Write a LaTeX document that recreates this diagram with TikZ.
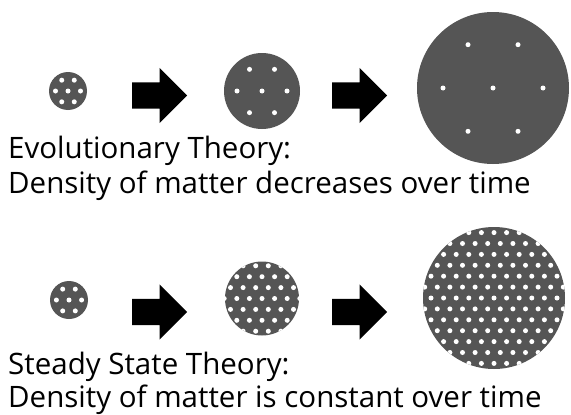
\documentclass[tikz,border=0pt]{standalone}
\usepackage{fontspec}
\setmainfont{Open Sans}
\usetikzlibrary{shapes.arrows,calc,positioning}
\definecolor{blobGrey}{HTML}{555555}
\tikzset{
  blob/.style={circle, fill=blobGrey, inner sep=0pt, minimum size=#1},
  bigarrow/.style={single arrow, fill=black, inner sep=0pt, inner ysep=13pt, minimum height=55pt, single arrow head extend=14.5pt, anchor=west},
  caption/.style={anchor=base west, inner sep=0pt, font=\fontsize{29.5}{35}\selectfont},
  speck/.style={fill=white},
}
% seven dots in a hexagon round a node
\newcommand{\hexspecks}[2]{%
  \foreach \dx/\dy in {-1/0,0/0,1/0,-0.5/-0.866,0.5/-0.866,-0.5/0.866,0.5/0.866}
    \fill[speck] ($(#1)+(\dx*#2,\dy*#2)$) circle (2.5pt);
}
% a clipped grid of dots inside a node
\newcommand{\gridspecks}[2]{%
  \begin{scope}
    \clip (#1.center) circle (#2);
    \foreach \j in {-8,...,8}
      \foreach \i in {-7,...,7} {
        \pgfmathsetmacro\gx{\i*12.6+mod(abs(\j),2)*6.3}
        \pgfmathsetmacro\gy{\j*10.9}
        \fill[speck] ($(#1)+(\gx,\gy)$) circle (2.5pt);
      }
  \end{scope}
}

\begin{document}
\begin{tikzpicture}[x=1pt,y=-1pt]
\useasboundingbox (0,0) rectangle (571,415);

% evolutionary row
\node[blob=38pt] (evoA) at (68,91) {};
\node[blob=76pt] (evoB) at (262,91) {};
\node[blob=152pt] (evoC) at (493,88) {};
\node[bigarrow] (evoArrA) at (132,95.5) {};
\node[bigarrow] (evoArrB) at (332,95.5) {};
\hexspecks{evoA}{12.5}
\hexspecks{evoB}{25}
\hexspecks{evoC}{50}
\node[caption] (evoTitle) at (8,158) {Evolutionary Theory:};
\node[caption] (evoText) at (8,193) {Density of matter decreases over time};

% steady state row
\node[blob=38pt] (ssA) at (69,300) {};
\node[blob=74pt] (ssB) at (262,298.5) {};
\node[blob=142pt] (ssC) at (494,298) {};
\node[bigarrow] (ssArrA) at (132,312) {};
\node[bigarrow] (ssArrB) at (332,312) {};
\gridspecks{ssA}{19pt}
\gridspecks{ssB}{37pt}
\gridspecks{ssC}{71pt}
\node[caption] (ssTitle) at (8,374) {Steady State Theory:};
\node[caption] (ssText) at (8,407) {Density of matter is constant over time};
\end{tikzpicture}
\end{document}
